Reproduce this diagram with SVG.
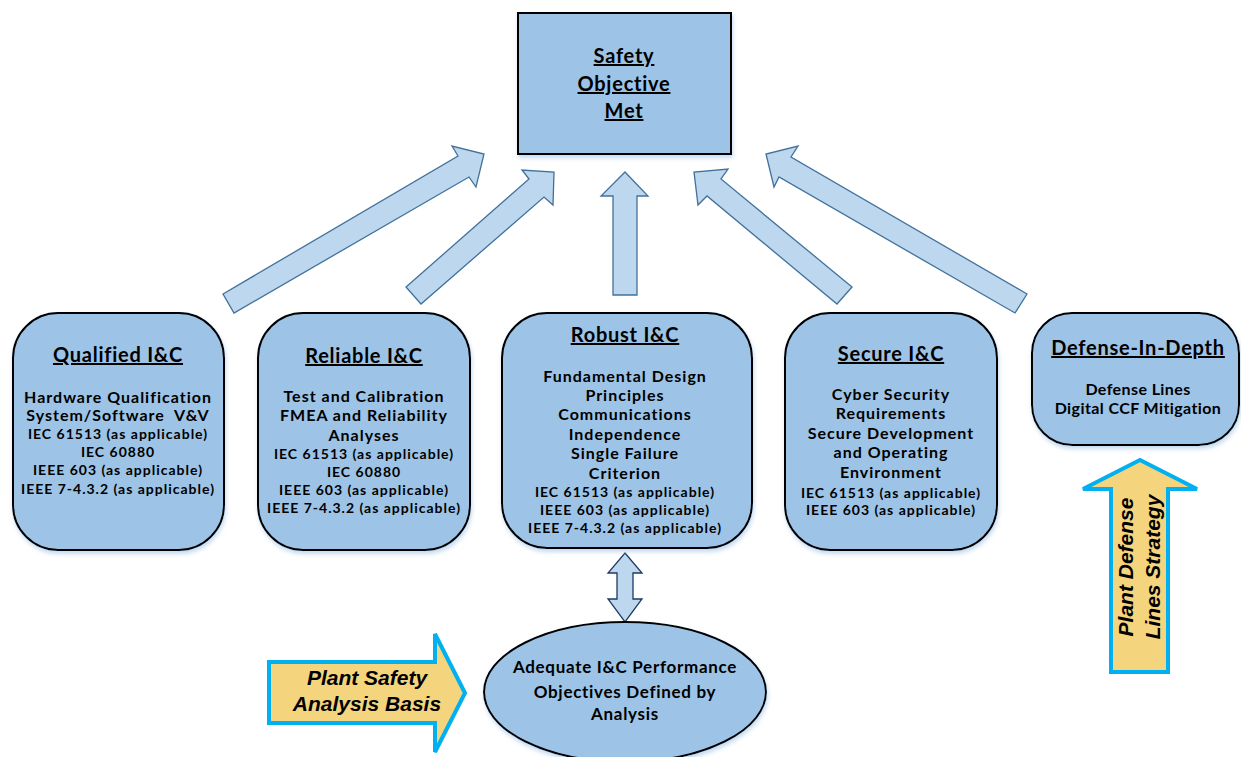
<svg xmlns="http://www.w3.org/2000/svg" width="1241" height="757" viewBox="0 0 1241 757">
<style>
.node{fill:#9DC3E6;stroke:#000;stroke-width:2}
.arr{fill:#BDD7EE;stroke:#41719C;stroke-width:1.3;stroke-linejoin:miter}
.dbl{fill:#BDD7EE;stroke:#1F3864;stroke-width:1.3}
.yel{fill:#F4D47C;stroke:#00B0F0;stroke-width:4;stroke-linejoin:miter}
text{font-family:Lato,"Liberation Sans",sans-serif;font-weight:bold;fill:#000;text-anchor:middle}
.t{font-size:20px;text-decoration:underline;letter-spacing:0.75px}
.b{font-size:16px;letter-spacing:1px}
.s{font-size:14px;letter-spacing:1px}
.d{font-size:16px;letter-spacing:0.4px}
.e{font-size:17px;letter-spacing:0.7px}
.y{font-family:"Liberation Sans",Arial,sans-serif;font-style:italic;font-size:21px}
</style>
<defs>
<filter id="sh" x="-10%" y="-10%" width="120%" height="125%">
<feDropShadow dx="1" dy="3" stdDeviation="2" flood-color="#9DC3E6" flood-opacity="0.6"/>
</filter>
</defs>
<rect width="1241" height="757" fill="#fff"/>

<g id="connectors">
<polygon class="arr" points="223,294 458,156 452,146 484,154 476,187 469,177 234,313"/>
<polygon class="arr" points="406,287 529,179 522,170 554,172 553,205 544,197 421,304"/>
<polygon class="arr" points="613,295 613,196 601,196 625,172 648,196 637,196 637,295"/>
<polygon class="arr" points="852,287 721,179 728,169 694,172 698,205 707,196 837,304"/>
<polygon class="arr" points="1027,294 791,157 798,146 766,154 774,187 779,177 1015,313"/>
<polygon class="dbl" points="625,553 642,573 633,573 633,599 642,599 625,622 608,599 617,599 617,573 608,573"/>
</g>

<g id="safety-objective">
<rect class="node" x="518" y="13" width="213" height="141" filter="url(#sh)"/>
<text class="t" x="624" y="63">Safety</text>
<text class="t" x="624" y="91">Objective</text>
<text class="t" x="624" y="118">Met</text>
</g>

<g id="qualified">
<rect class="node" x="13" y="313" width="211" height="237" rx="45" filter="url(#sh)"/>
<text class="t" x="118" y="362">Qualified I&amp;C</text>
<text class="b" x="118" y="403">Hardware Qualification</text>
<text class="b" x="118" y="421">System/Software &#160;V&amp;V</text>
<text class="s" x="118" y="439">IEC 61513 (as applicable)</text>
<text class="s" x="118" y="457">IEC 60880</text>
<text class="s" x="118" y="475">IEEE 603 (as applicable)</text>
<text class="s" x="118" y="494">IEEE 7-4.3.2 (as applicable)</text>
</g>

<g id="reliable">
<rect class="node" x="258" y="313" width="212" height="237" rx="45" filter="url(#sh)"/>
<text class="t" x="364" y="363">Reliable I&amp;C</text>
<text class="b" x="364" y="402">Test and Calibration</text>
<text class="b" x="364" y="421">FMEA and Reliability</text>
<text class="b" x="364" y="441">Analyses</text>
<text class="s" x="364" y="459">IEC 61513 (as applicable)</text>
<text class="s" x="364" y="477">IEC 60880</text>
<text class="s" x="364" y="495">IEEE 603 (as applicable)</text>
<text class="s" x="364" y="513">IEEE 7-4.3.2 (as applicable)</text>
</g>

<g id="robust">
<rect class="node" x="502" y="313" width="250" height="235" rx="45" filter="url(#sh)"/>
<text class="t" x="625" y="342">Robust I&amp;C</text>
<text class="b" x="625" y="382">Fundamental Design</text>
<text class="b" x="625" y="401">Principles</text>
<text class="b" x="625" y="420">Communications</text>
<text class="b" x="625" y="440">Independence</text>
<text class="b" x="625" y="459">Single Failure</text>
<text class="b" x="625" y="479">Criterion</text>
<text class="s" x="625" y="497">IEC 61513 (as applicable)</text>
<text class="s" x="625" y="515">IEEE 603 (as applicable)</text>
<text class="s" x="625" y="533">IEEE 7-4.3.2 (as applicable)</text>
</g>

<g id="secure">
<rect class="node" x="785" y="313" width="212" height="237" rx="45" filter="url(#sh)"/>
<text class="t" x="891" y="361">Secure I&amp;C</text>
<text class="b" x="891" y="400">Cyber Security</text>
<text class="b" x="891" y="419">Requirements</text>
<text class="b" x="891" y="439">Secure Development</text>
<text class="b" x="891" y="458">and Operating</text>
<text class="b" x="891" y="478">Environment</text>
<text class="s" x="891" y="498">IEC 61513 (as applicable)</text>
<text class="s" x="891" y="515">IEEE 603 (as applicable)</text>
</g>

<g id="defense-in-depth">
<rect class="node" x="1032" y="313" width="207" height="132" rx="40" filter="url(#sh)"/>
<text class="t" x="1138" y="355">Defense-In-Depth</text>
<text class="d" x="1138" y="395">Defense Lines</text>
<text class="d" x="1138" y="414">Digital CCF Mitigation</text>
</g>

<g id="performance-objectives">
<ellipse class="node" cx="625" cy="692" rx="141" ry="70" filter="url(#sh)"/>
<text class="e" x="625" y="673">Adequate I&amp;C Performance</text>
<text class="e" x="625" y="698">Objectives Defined by</text>
<text class="e" x="625" y="720">Analysis</text>
</g>

<g id="plant-safety-analysis-basis">
<polygon class="yel" points="269,662 435,662 435,634 465,693 435,752 435,723 269,723"/>
<text class="y" x="367" y="685">Plant Safety</text>
<text class="y" x="367" y="711">Analysis Basis</text>
</g>

<g id="plant-defense-lines-strategy">
<polygon class="yel" points="1111,672 1111,489 1083,489 1140,460 1197,489 1168,489 1168,672"/>
<text class="y" font-size="20.5" transform="translate(1133,567) rotate(-90)">Plant Defense</text>
<text class="y" font-size="20.5" transform="translate(1160,567) rotate(-90)">Lines Strategy</text>
</g>
</svg>
